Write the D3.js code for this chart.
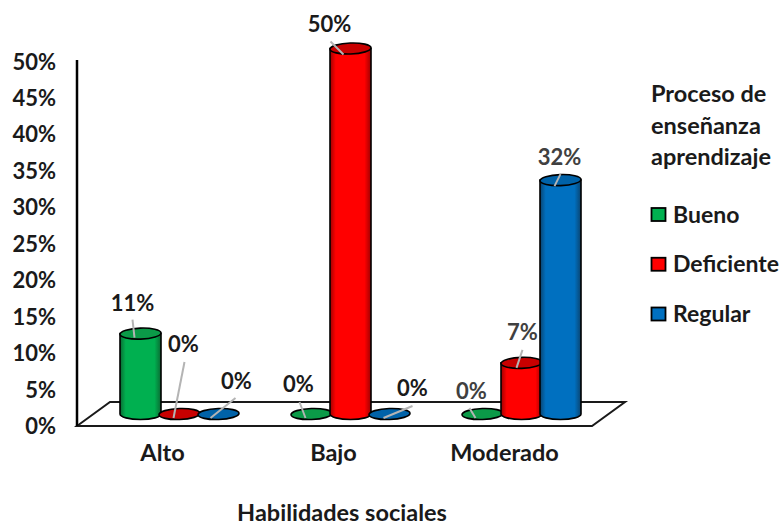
<!DOCTYPE html>
<html><head><meta charset="utf-8">
<script src="https://cdn.jsdelivr.net/npm/d3@7"></script>
<style>
html,body{margin:0;padding:0;background:#fff}
svg{display:block}
text{font-family:Lato,"Open Sans",sans-serif;font-weight:700;fill:#1a1a1a}
</style></head><body>
<svg id="c" width="779" height="526"></svg>
<script>
const categories = ["Alto","Bajo","Moderado"];
const seriesNames = ["Bueno","Deficiente","Regular"];
const bueno = [11,0,0];
const deficiente = [0,50,7];
const regular = [0,0,32];
const yTicks = [0,5,10,15,20,25,30,35,40,45,50];
const legendTitle = ["Proceso de","enseñanza","aprendizaje"];
const axisTitle = "Habilidades sociales";

const seriesValues = [bueno,deficiente,regular];
const palette = [
  {main:"#00b050",dark:"#0a6b33",top:"#0b9a48"},
  {main:"#ff0000",dark:"#a00000",top:"#c80000"},
  {main:"#0070c0",dark:"#0a4470",top:"#0062a8"}
];
// label centre and leader line offsets, [series][category]: [lx,ly,x1,y1,x2,y2] relative to bar top centre
const labelLayout = [
  [[-8,-31,-8,-14,-6,4],[-13,-30,-12,-12,-6,4],[-11,-23,-13,-6,-7,4]],
  [[4,-70,5,-52,-6,4],[-21,-25,-20,-7,-7,6],[1,-31,1,-13,-5,5]],
  [[18,-33,17,-16,-8,4],[23,-26,23,-8,-6,4],[-1,-23,0,-6,-6,6]]
];
const labelGrey = [[0,0,1],[0,0,1],[0,0,1]];

const svg = d3.select("#c");
const baseY = 414;
const yBar = d3.scaleLinear().domain([0,50]).range([baseY,48.5]);
const yAxisScale = d3.scaleLinear().domain([0,50]).range([426.5,62]);
const x0 = d3.scaleBand().domain(categories).range([94,607]);
const x1 = d3.scaleBand().domain(seriesNames).range([0,117]);
const rx = 20.5, ry = 5.5;

const defs = svg.append("defs");
palette.forEach((p,i)=>{
  const g = defs.append("linearGradient").attr("id","g"+i);
  [[0,p.dark],[.14,p.main],[.5,p.main],[.84,p.main],[1,p.dark]].forEach(s=>
    g.append("stop").attr("offset",s[0]).attr("stop-color",s[1]));
});

// floor
svg.append("path").attr("d",d3.line()([[77,426],[110,402],[625,402],[592,426]])+"Z")
  .attr("fill","#fff").attr("stroke","#1a1a1a").attr("stroke-width",2);
// left wall line
svg.append("path").attr("d","M77,60V426").attr("stroke","#000").attr("stroke-width",2.5);

// axes
const ax = svg.append("g").attr("transform","translate(59,0)")
  .call(d3.axisLeft(yAxisScale).tickValues(yTicks).tickSize(0).tickPadding(3).tickFormat(d=>d+"%"));
ax.select(".domain").remove();
ax.selectAll("text").attr("font-size",22).style("font-family","Lato,sans-serif");
const bx = svg.append("g").attr("transform","translate(-17,444)")
  .call(d3.axisBottom(x0).tickSize(0).tickPadding(0));
bx.select(".domain").remove();
bx.selectAll("text").attr("font-size",23.5).style("font-family","Lato,sans-serif");

svg.append("text").attr("x",342).attr("y",521).attr("text-anchor","middle")
  .attr("font-size",23.5).text(axisTitle);

// bars
const bars = svg.append("g");
const labels = svg.append("g");
seriesValues.forEach((vals,si)=>{
  vals.forEach((v,ci)=>{
    const cx = x0(categories[ci]) + x0.bandwidth()/2 - 58.5 + x1(seriesNames[si]) + x1.bandwidth()/2;
    const top = yBar(v), p = palette[si];
    const g = bars.append("g");
    if(v>0){
      g.append("path")
       .attr("d",`M${cx-rx},${top}V${baseY}A${rx},${ry} 0 0 0 ${cx+rx},${baseY}V${top}Z`)
       .attr("fill",`url(#g${si})`).attr("stroke","#000").attr("stroke-width",1.6);
    }
    g.append("ellipse").attr("cx",cx).attr("cy",top).attr("rx",rx).attr("ry",ry)
      .attr("transform",`rotate(-2 ${cx} ${top})`)
      .attr("fill",p.top).attr("stroke","#000").attr("stroke-width",1.6);
    const L = labelLayout[si][ci];
    labels.append("line").attr("x1",cx+L[2]).attr("y1",top+L[3]).attr("x2",cx+L[4]).attr("y2",top+L[5])
      .attr("stroke","#b4b4b4").attr("stroke-width",2);
    labels.append("text").attr("x",cx+L[0]).attr("y",top+L[1]+8).attr("text-anchor","middle")
      .attr("font-size",22).style("fill",labelGrey[si][ci]?"#404040":"#1a1a1a").text(v+"%");
  });
});

// legend
svg.append("g").selectAll("text").data(legendTitle).join("text")
  .attr("x",651).attr("y",(d,i)=>102+i*31.5).attr("font-size",23.5).text(d=>d);
const ly = d3.scalePoint().domain(seriesNames).range([214.5,314]);
const lg = svg.append("g").selectAll("g").data(seriesNames).join("g")
  .attr("transform",d=>`translate(651,${ly(d)})`);
lg.append("rect").attr("x",0.5).attr("y",-6.5).attr("width",14).attr("height",13)
  .attr("fill",(d,i)=>palette[i].main).attr("stroke","#000").attr("stroke-width",1.8);
lg.append("text").attr("x",22).attr("y",8).attr("font-size",23).text(d=>d);
</script></body></html>
